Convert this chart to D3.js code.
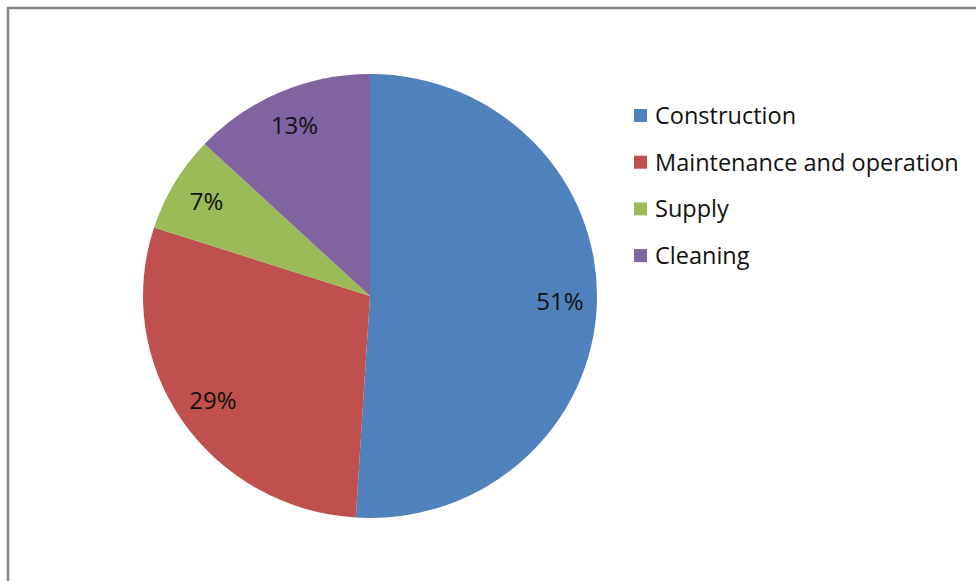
<!DOCTYPE html>
<html>
<head>
<meta charset="utf-8">
<script src="https://cdn.jsdelivr.net/npm/d3@7"></script>
<style>
  html, body { margin: 0; padding: 0; background: #fff; }
  svg { display: block; font-family: "Open Sans", "Noto Sans", sans-serif; }
</style>
</head>
<body>
<svg id="chart" width="976" height="581"></svg>
<script>
// chart data
var categories = ["Construction", "Maintenance and operation", "Supply", "Cleaning"];
var shares = [51, 29, 7, 13];
var colors = ["#4F81BD", "#C0504D", "#9BBB59", "#8064A2"];

var svg = d3.select("#chart");

// outer frame (runs off the right and bottom edge)
svg.append("rect")
    .attr("x", 8).attr("y", 8)
    .attr("width", 1100).attr("height", 700)
    .attr("fill", "none")
    .attr("stroke", "#868686")
    .attr("stroke-width", 2.5);

var cx = 370, cy = 296, radius = 227, squash = 222 / 227;

var data = categories.map(function(c, i) {
    return { name: c, value: shares[i], color: colors[i] };
});

var pie = d3.pie()
    .value(function(d) { return d.value; })
    .sort(null);

var arc = d3.arc().innerRadius(0).outerRadius(radius);
var labelArc = d3.arc().innerRadius(190).outerRadius(190);

var g = svg.append("g").attr("transform", "translate(" + cx + "," + cy + ")");

var slices = pie(data);

g.append("g")
    .attr("transform", "scale(1," + squash + ")")
    .selectAll("path.slice")
    .data(slices)
    .enter()
    .append("path")
    .attr("class", "slice")
    .attr("d", arc)
    .style("fill", function(d) { return d.data.color; });

g.selectAll("text.pct")
    .data(slices)
    .enter()
    .append("text")
    .attr("class", "pct")
    .attr("transform", function(d) {
        var c = labelArc.centroid(d);
        return "translate(" + c[0] + "," + (c[1] * squash) + ")";
    })
    .attr("text-anchor", "middle")
    .attr("dy", "0.35em")
    .style("font-size", "24px")
    .style("fill", "#111")
    .text(function(d) { return d.data.value + "%"; });

// legend
var legend = svg.append("g").attr("transform", "translate(634,109)");

var item = legend.selectAll("g.item")
    .data(data)
    .enter()
    .append("g")
    .attr("class", "item")
    .attr("transform", function(d, i) { return "translate(0," + (i * 46.7) + ")"; });

item.append("rect")
    .attr("width", 13).attr("height", 13)
    .style("fill", function(d) { return d.color; });

item.append("text")
    .attr("x", 21)
    .attr("y", 15)
    .style("font-size", "23.5px")
    .style("fill", "#111")
    .text(function(d) { return d.name; });
</script>
</body>
</html>
